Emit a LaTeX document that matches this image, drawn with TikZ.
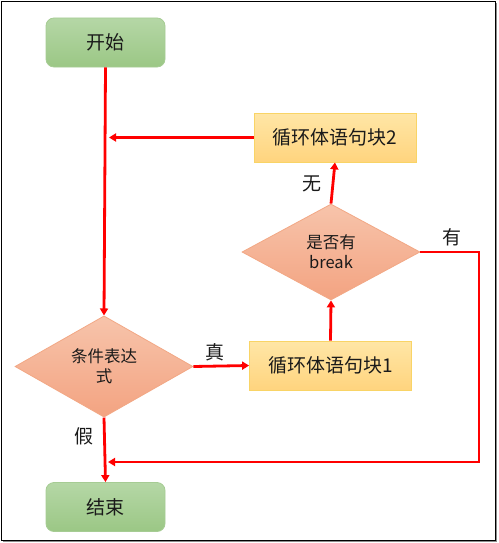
\documentclass[tikz,border=0pt]{standalone}
\usepackage{fontspec}
\setmainfont{Noto Sans CJK SC}
\usetikzlibrary{shapes.geometric,arrows.meta}
\definecolor{gtop}{HTML}{B5D7A6}
\definecolor{gbot}{HTML}{9BC785}
\definecolor{gbd}{HTML}{A6CC94}
\definecolor{ytop}{HTML}{FFE6A6}
\definecolor{ybot}{HTML}{FFD47E}
\definecolor{ybd}{HTML}{F9D466}
\definecolor{dtop}{HTML}{F7C4AB}
\definecolor{dbot}{HTML}{F3A381}
\definecolor{dbd}{HTML}{F2A885}
\definecolor{txt}{HTML}{1A1A1A}
\tikzset{
  term/.style={rounded corners=8pt, draw=gbd, line width=0.8pt, top color=gtop, bottom color=gbot,
    minimum width=119pt, minimum height=49pt, inner sep=0pt, font=\fontsize{19}{21}\selectfont, text=txt},
  blockbox/.style={draw=ybd, line width=0.8pt, top color=ytop, bottom color=ybot,
    minimum width=162pt, minimum height=49pt, inner sep=0pt, font=\fontsize{19}{21}\selectfont, text=txt},
  decision/.style={diamond, draw=dbd, line width=0.8pt, top color=dtop, bottom color=dbot,
    minimum width=178pt, minimum height=96pt, inner sep=0pt, align=center,
    font=\fontsize{16.5}{20}\selectfont, text=txt},
  flow/.style={draw=red, line width=2.8pt, -{Triangle[length=7pt,width=8pt]}},
  lab/.style={font=\fontsize{19}{21}\selectfont, text=txt, inner sep=0pt}
}
\begin{document}
\begin{tikzpicture}[x=1pt,y=-1pt]
\useasboundingbox (0,0) rectangle (498,543);
\draw[draw=black!45, line width=1.2pt] (3,541.8) -- (496.8,541.8) -- (496.8,3);
\draw[black, line width=1.2pt] (1.5,1.5) rectangle (495.5,540.5);

\node[term] (start) at (105.5,42.5) {开始};
\node[blockbox] (b2) at (335,137.5) {循环体语句块2};
\node[decision] (brk) at (331,252) {是否有\\break};
\node[decision] (cond) at (104,366.5) {条件表达\\式};
\node[blockbox] (b1) at (330.5,365.5) {循环体语句块1};
\node[term] (end) at (105.5,507) {结束};

\coordinate (j1) at (109,137.5);
\coordinate (c1) at (479,252);
\coordinate (c2) at (479,462);
\coordinate (j2) at (108,462);

\draw[flow] (start.south) -- (cond.north);
\draw[flow] (b2.west) -- (j1);
\draw[flow] (cond.east) -- (b1.west);
\draw[flow] (b1.north) -- (brk.south);
\draw[flow] (brk.north) -- (b2.south);
\draw[flow] (brk.east) -- (c1) -- (c2) -- (j2);
\draw[flow] (cond.south) -- (end.north);

\node[lab] (lt) at (215,352) {真};
\node[lab] (lw) at (312,184) {无};
\node[lab] (ly) at (452,237) {有};
\node[lab] (lf) at (84,436) {假};
\end{tikzpicture}
\end{document}
